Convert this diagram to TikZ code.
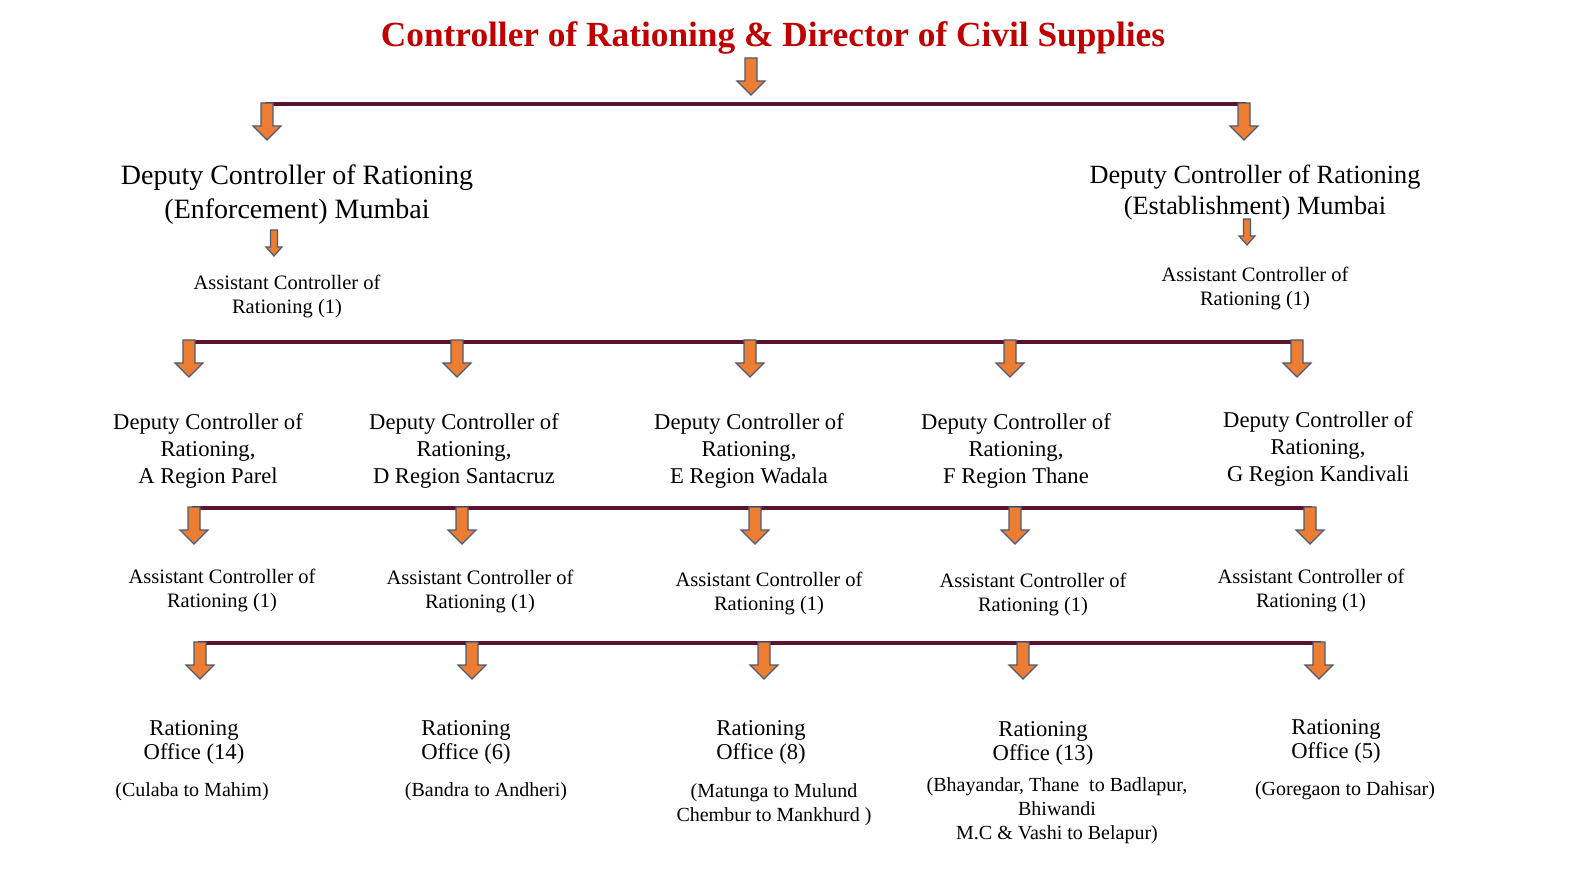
\documentclass[tikz,border=0pt]{standalone}
\usepackage{fontspec}
\setmainfont{Liberation Serif}
\definecolor{titlered}{HTML}{C00000}
\definecolor{busline}{HTML}{5A1430}
\definecolor{arrfill}{HTML}{ED7D31}
\definecolor{arredge}{HTML}{4A5A7A}
\tikzset{
  arrowstyle/.style={fill=arrfill,draw=arredge,line width=1.2pt,line join=miter},
  bigarrow/.pic={\draw[arrowstyle] (-6,0) -- (6,0) -- (6,23) -- (14,23) -- (0,37) -- (-14,23) -- (-6,23) -- cycle;},
  smallarrow/.pic={\draw[arrowstyle] (-3.5,0) -- (3.5,0) -- (3.5,17) -- (8,17) -- (0,26) -- (-8,17) -- (-3.5,17) -- cycle;},
  bus/.style={draw=busline,line width=4pt},
  bigtxt/.style={align=center,inner sep=0pt,font=\fontsize{28}{34}\selectfont},
  midtxt/.style={align=center,inner sep=0pt,font=\fontsize{22.6}{27}\selectfont},
  offtxt/.style={align=center,inner sep=0pt,font=\fontsize{22.6}{24}\selectfont},
  smalltxt/.style={align=center,inner sep=0pt,font=\fontsize{20.5}{24}\selectfont},
  subtxt/.style={align=center,inner sep=0pt,font=\fontsize{20}{24}\selectfont},
}
\begin{document}
\begin{tikzpicture}[x=1pt,y=-1pt]
\useasboundingbox (0,0) rectangle (1572,885);
% title
\node[text=titlered,inner sep=0pt,font=\fontsize{35.3}{40}\selectfont\bfseries] (title) at (773,38) {Controller of Rationing \& Director of Civil Supplies};
\pic at (751,58) {bigarrow};
% bus 1
\coordinate (b1l) at (265,104); \coordinate (b1r) at (1246,104);
\draw[bus] (b1l) -- (b1r);
\pic at (267,103) {bigarrow};
\pic at (1244,103) {bigarrow};
% level 2
\node[bigtxt] (dcenf) at (297,195) {Deputy Controller of Rationing\\(Enforcement) Mumbai};
\node[bigtxt,font=\fontsize{26.3}{31}\selectfont] (dcest) at (1255,193) {Deputy Controller of Rationing\\(Establishment) Mumbai};
\pic at (274,230) {smallarrow};
\pic at (1247,219) {smallarrow};
\node[smalltxt] (acenf) at (287,296) {Assistant Controller of\\Rationing (1)};
\node[smalltxt] (acest) at (1255,288) {Assistant Controller of\\Rationing (1)};
% bus 2
\coordinate (b2l) at (187,342); \coordinate (b2r) at (1299,342);
\draw[bus] (b2l) -- (b2r);
\foreach \x in {189,457,750,1010,1297} {\pic at (\x,340) {bigarrow};}
% regions
\node[midtxt] (rA) at (208,451) {Deputy Controller of\\Rationing,\\A Region Parel};
\node[midtxt] (rD) at (464,451) {Deputy Controller of\\Rationing,\\D Region Santacruz};
\node[midtxt] (rE) at (749,451) {Deputy Controller of\\Rationing,\\E Region Wadala};
\node[midtxt] (rF) at (1016,451) {Deputy Controller of\\Rationing,\\F Region Thane};
\node[midtxt] (rG) at (1318,449) {Deputy Controller of\\Rationing,\\G Region Kandivali};
% bus 3
\coordinate (b3l) at (192,508); \coordinate (b3r) at (1312,508);
\draw[bus] (b3l) -- (b3r);
\foreach \x in {194,462,755,1015,1310} {\pic at (\x,507) {bigarrow};}
% assistants
\node[smalltxt] (aA) at (222,590) {Assistant Controller of\\Rationing (1)};
\node[smalltxt] (aD) at (480,591) {Assistant Controller of\\Rationing (1)};
\node[smalltxt] (aE) at (769,593) {Assistant Controller of\\Rationing (1)};
\node[smalltxt] (aF) at (1033,594) {Assistant Controller of\\Rationing (1)};
\node[smalltxt] (aG) at (1311,590) {Assistant Controller of\\Rationing (1)};
% bus 4
\coordinate (b4l) at (198,643); \coordinate (b4r) at (1321,643);
\draw[bus] (b4l) -- (b4r);
\foreach \x in {200,472,764,1023,1319} {\pic at (\x,642) {bigarrow};}
% offices
\node[offtxt] (oA) at (194,742) {Rationing\\Office (14)};
\node[offtxt] (oD) at (466,742) {Rationing\\Office (6)};
\node[offtxt] (oE) at (761,742) {Rationing\\Office (8)};
\node[offtxt] (oF) at (1043,743) {Rationing\\Office (13)};
\node[offtxt] (oG) at (1336,741) {Rationing\\Office (5)};
\node[subtxt] (sA) at (192,792) {(Culaba to Mahim)};
\node[subtxt] (sD) at (486,792) {(Bandra to Andheri)};
\node[subtxt] (sE) at (774,805) {(Matunga to Mulund\\Chembur to Mankhurd )};
\node[subtxt] (sF) at (1057,811) {(Bhayandar, Thane\ \ to Badlapur,\\Bhiwandi\\M.C \& Vashi to Belapur)};
\node[subtxt] (sG) at (1345,791) {(Goregaon to Dahisar)};
\end{tikzpicture}
\end{document}
